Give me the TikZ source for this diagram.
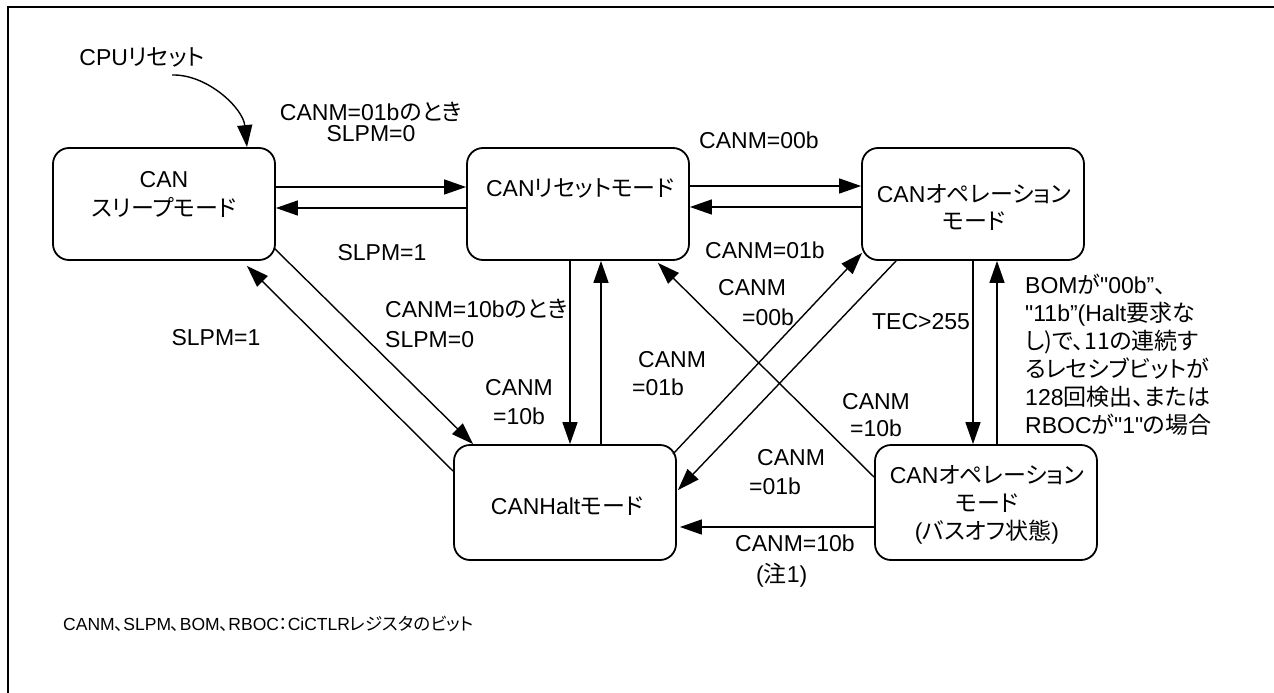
\documentclass[tikz,border=0pt]{standalone}
\usepackage{fontspec}
\setmainfont{Liberation Sans}
\newfontfamily\plainfont{Liberation Sans}
\newfontfamily\jpfont[RawFeature=+palt]{Noto Sans CJK JP}
\newcommand\jt[1]{{\jpfont #1}}
\newcommand\dq{{\plainfont"}}
\usetikzlibrary{arrows.meta,calc}
\tikzset{
  box/.style={draw, line width=1.8pt, rounded corners=16pt, minimum width=222pt, minimum height=112pt, inner sep=0pt},
  lowbox/.style={box, minimum height=115pt},
  lbl/.style={inner sep=0pt, font=\fontsize{23}{29}\selectfont},
  arr/.style={line width=1.4pt, -{Triangle[length=22pt,width=15pt]}},
  frame/.style={line width=2pt}
}
\begin{document}
\begin{tikzpicture}[x=1pt,y=-1pt]
\useasboundingbox (0,0) rectangle (1274,693);
\draw[frame] (8,720) -- (8,7) -- (1300,7);

% state boxes
\node[box] (sleep) at (164,204) {};
\node[box] (reset) at (578,204) {};
\node[box] (op) at (973,204) {};
\node[lowbox] (halt) at (565,502.5) {};
\node[lowbox] (busoff) at (986,502.5) {};

% box texts
\node[lbl, align=center] (sleepT) at (164,194) {CAN\\\jt{スリープモード}};
\node[lbl] (resetT) at (580,188) {CAN\jt{リセットモード}};
\node[lbl, align=center, font=\fontsize{23}{27}\selectfont] (opT) at (974,207) {CAN\jt{オペレーション}\\\jt{モード}};
\node[lbl] (haltT) at (567,506) {CANHalt\jt{モード}};
\node[lbl, align=center, font=\fontsize{23}{28}\selectfont] (busoffT) at (987,505) {CAN\jt{オペレーション}\\\jt{モード}\\(\jt{バスオフ状態})};

% CPU reset
\node[lbl] (cpu) at (142,57) {CPU\jt{リセット}};
\coordinate (cpus) at (172,75);
\draw[arr] (cpus) .. controls (207,74) and (243,108) .. ($(sleep.north)+(83,0)$);

% horizontal connectors
\draw[arr] ($(sleep.east)+(0,-17)$) -- ($(reset.west)+(0,-17)$);
\draw[arr] ($(reset.west)+(0,4)$) -- ($(sleep.east)+(0,4)$);
\draw[arr] ($(reset.east)+(0,-18)$) -- ($(op.west)+(0,-18)$);
\draw[arr] ($(op.west)+(0,3)$) -- ($(reset.east)+(0,3)$);
\draw[arr] ($(busoff.west)+(0,24.5)$) -- ($(halt.east)+(3,24.5)$);

% vertical connectors
\draw[arr] ($(reset.south)+(-8,0)$) -- ($(halt.north)+(5,0)$);
\draw[arr] ($(halt.north)+(36,0)$) -- ($(reset.south)+(23,0)$);
\draw[arr] (op.south) -- ($(busoff.north)+(-13,0)$);
\draw[arr] ($(busoff.north)+(11,0)$) -- ($(op.south)+(24,0)$);

% diagonal connectors
\draw[arr] ($(sleep.south east)+(-2,-13)$) -- ($(halt.north west)+(20,0)$);
\draw[arr] ($(halt.north west)+(0,27)$) -- ($(sleep.south east)+(-29,5)$);
\draw[arr] ($(halt.north east)+(-4,10)$) -- ($(op.south west)+(1,-8)$);
\draw[arr] ($(op.south west)+(35,0)$) -- ($(halt.north east)+(1,46)$);
\draw[arr] ($(busoff.north west)+(0,33)$) -- ($(reset.south east)+(-32,2)$);

% labels
\node[lbl, align=center, font=\fontsize{23}{21}\selectfont] (l1) at (371,122) {CANM=01b\jt{のとき}\\SLPM=0};
\node[lbl] (l2) at (759,140) {CANM=00b};
\node[lbl] (l3) at (382,253) {SLPM=1};
\node[lbl] (l4) at (765,250) {CANM=01b};
\node[lbl, align=left, anchor=west, font=\fontsize{23}{30}\selectfont] (l5) at (385,323) {CANM=10b\jt{のとき}\\SLPM=0};
\node[lbl] (l6) at (216,338) {SLPM=1};
\node[lbl, align=center] (l7) at (519,402) {CANM\\=10b};
\node[lbl, align=left, anchor=west, font=\fontsize{23}{28}\selectfont] (l8) at (638,374) {CANM\\\hspace*{-6pt}=01b};
\node[lbl, align=left, anchor=west, font=\fontsize{23}{30}\selectfont] (l9) at (718,303) {CANM\\\hspace*{24pt}=00b};
\node[lbl] (l10) at (921,322) {TEC>255};
\node[lbl, align=left, anchor=west, font=\fontsize{23}{28}\selectfont] (l11) at (1025,355) {BOM\jt{が}\dq 00b”\jt{、}\\\dq 11b”(Halt\jt{要求な}\\\jt{し)で、11の連続す}\\\jt{るレセシブビットが}\\128\jt{回検出、または}\\RBOC\jt{が}\dq 1\dq\jt{の場合}};
\node[lbl, align=center, font=\fontsize{23}{27}\selectfont] (l12) at (876,415) {CANM\\=10b};
\node[lbl, align=left, anchor=west] (l13) at (757,472) {CANM\\\hspace*{-8pt}=01b};
\node[lbl, align=left, anchor=west, font=\fontsize{23}{31}\selectfont] (l14) at (735,561) {CANM=10b\\\hspace*{21pt}(\jt{注}1)};
\node[lbl, anchor=west, font=\fontsize{17.5}{21}\selectfont] (foot) at (63,624) {CANM\jt{、}SLPM\jt{、}BOM\jt{、}RBOC\jt{：}CiCTLR\jt{レジスタのビット}};
\end{tikzpicture}
\end{document}
